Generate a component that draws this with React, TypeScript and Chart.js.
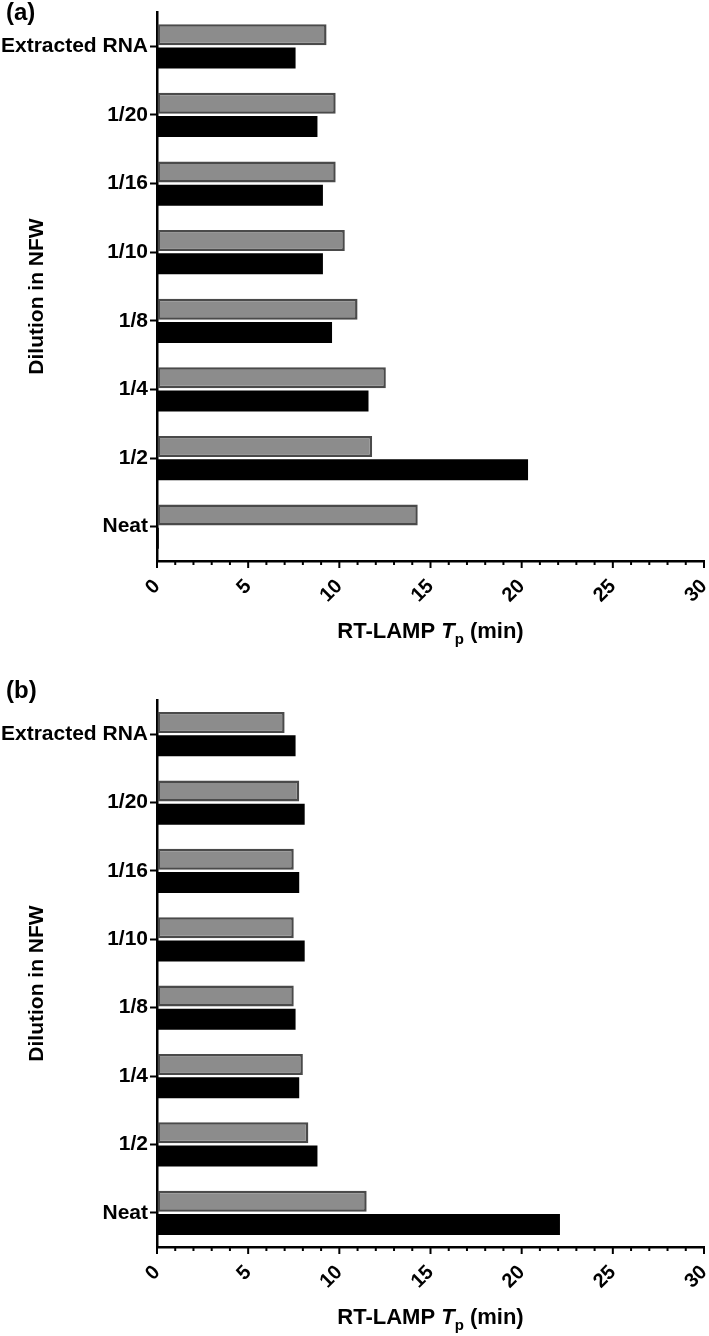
import React, { useEffect, useRef } from "react";
import { Chart, registerables } from "chart.js";

Chart.register(...registerables);

const categories = ["Extracted RNA", "1/20", "1/16", "1/10", "1/8", "1/4", "1/2", "Neat"];
const panelAGray = [9.3, 9.8, 9.8, 10.3, 11.0, 12.55, 11.8, 14.3];
const panelABlack = [7.6, 8.8, 9.1, 9.1, 9.6, 11.6, 20.35, 0.1];
const panelBGray = [7.0, 7.8, 7.5, 7.5, 7.5, 8.0, 8.3, 11.5];
const panelBBlack = [7.6, 8.1, 7.8, 8.1, 7.6, 7.8, 8.8, 22.1];
const xMin = 0;
const xMax = 30;
const majorStep = 5;
const panelLabels = ["(a)", "(b)"];
const yTitle = "Dilution in NFW";

const FONT = "'Liberation Sans', Arial, sans-serif";

type PanelCfg = {
  label: string;
  gray: number[];
  black: number[];
  height: number;
  top: number;
  bottom: number;
  labelY: number;
};

function makeChart(canvas: HTMLCanvasElement, cfg: PanelCfg) {
  const decor = {
    id: "decor",
    afterDraw(chart: any) {
      const { ctx, chartArea, scales } = chart;
      const xs = scales.x;
      ctx.save();
      ctx.strokeStyle = "#000";
      ctx.lineWidth = 2;
      xs.ticks.forEach((t: any) => {
        const px = xs.getPixelForValue(t.value);
        const len = t.value % majorStep === 0 ? 7 : 4;
        ctx.beginPath();
        ctx.moveTo(px, chartArea.bottom);
        ctx.lineTo(px, chartArea.bottom + len);
        ctx.stroke();
      });
      ctx.fillStyle = "#000";
      ctx.font = `bold 24px ${FONT}`;
      ctx.textAlign = "left";
      ctx.textBaseline = "middle";
      ctx.fillText(cfg.label, 6, cfg.labelY);
      ctx.save();
      ctx.translate(37, (chartArea.top + chartArea.bottom) / 2 + 10);
      ctx.rotate(-Math.PI / 2);
      ctx.font = `bold 21px ${FONT}`;
      ctx.textAlign = "center";
      ctx.textBaseline = "middle";
      ctx.fillText(yTitle, 0, 0);
      ctx.restore();
      const parts = [
        { t: "RT-LAMP ", f: `bold 22px ${FONT}`, dy: 0 },
        { t: "T", f: `italic bold 22px ${FONT}`, dy: 0 },
        { t: "p", f: `bold 15px ${FONT}`, dy: 6 },
        { t: " (min)", f: `bold 22px ${FONT}`, dy: 0 },
      ];
      let total = 0;
      parts.forEach((p) => {
        ctx.font = p.f;
        total += ctx.measureText(p.t).width;
      });
      let x = (chartArea.left + chartArea.right) / 2 - total / 2;
      const baseY = chartArea.bottom + 77;
      ctx.textAlign = "left";
      ctx.textBaseline = "alphabetic";
      parts.forEach((p) => {
        ctx.font = p.f;
        ctx.fillText(p.t, x, baseY + p.dy);
        x += ctx.measureText(p.t).width;
      });
      ctx.restore();
    },
  };

  return new Chart(canvas, {
    type: "bar",
    data: {
      labels: categories,
      datasets: [
        {
          data: cfg.gray,
          backgroundColor: "#8c8c8c",
          borderColor: "#4a4a4a",
          borderWidth: 2.5,
          borderSkipped: false,
          categoryPercentage: 0.68,
          barPercentage: 0.9,
        },
        {
          data: cfg.black,
          backgroundColor: "#000000",
          borderColor: "#000000",
          borderWidth: 0,
          categoryPercentage: 0.68,
          barPercentage: 0.9,
        },
      ],
    },
    options: {
      indexAxis: "y",
      responsive: false,
      animation: false,
      layout: { padding: { top: cfg.top, right: 5, left: 0, bottom: 0 } },
      plugins: { legend: { display: false }, tooltip: { enabled: false } },
      scales: {
        y: {
          type: "category",
          afterFit: (s: any) => {
            s.width = 157;
            s.paddingTop = 0;
            s.paddingBottom = 0;
          },
          grid: {
            display: true,
            drawOnChartArea: false,
            offset: false,
            tickLength: 7,
            tickWidth: 2,
            tickColor: "#000",
          },
          border: { display: true, color: "#000", width: 2.5 },
          ticks: {
            color: "#000",
            padding: 2,
            font: { family: FONT, size: 21, weight: "bold" },
          },
        },
        x: {
          type: "linear",
          min: xMin,
          max: xMax,
          afterFit: (s: any) => {
            s.height = cfg.height - cfg.bottom;
            s.paddingLeft = 0;
            s.paddingRight = 0;
          },
          grid: {
            display: true,
            drawOnChartArea: false,
            tickLength: 7,
            tickColor: "rgba(0,0,0,0)",
          },
          border: { display: true, color: "#000", width: 2.5 },
          ticks: {
            stepSize: 1,
            autoSkip: false,
            minRotation: 45,
            maxRotation: 45,
            padding: 13,
            color: "#000",
            font: { family: FONT, size: 20, weight: "bold", lineHeight: 0.3 },
            callback: (v: any) => (Number(v) % majorStep === 0 ? String(v) : ""),
          },
        },
      },
    },
    plugins: [decor],
  } as any);
}

function Panel({ cfg, top }: { cfg: PanelCfg; top: number }) {
  const ref = useRef<HTMLCanvasElement>(null);
  useEffect(() => {
    if (!ref.current) return;
    const c = makeChart(ref.current, cfg);
    return () => c.destroy();
  }, []);
  return (
    <canvas
      ref={ref}
      width={709}
      height={cfg.height}
      style={{ position: "absolute", left: 0, top, width: 709, height: cfg.height }}
    />
  );
}

export default function App() {
  const a: PanelCfg = { label: panelLabels[0], gray: panelAGray, black: panelABlack, height: 660, top: 12, bottom: 561, labelY: 13 };
  const b: PanelCfg = { label: panelLabels[1], gray: panelBGray, black: panelBBlack, height: 676, top: 40, bottom: 587, labelY: 31 };
  return (
    <div style={{ position: "absolute", left: 0, top: 0, width: 709, height: 1336, background: "#fff", overflow: "hidden" }}>
      <Panel cfg={a} top={0} />
      <Panel cfg={b} top={660} />
    </div>
  );
}
